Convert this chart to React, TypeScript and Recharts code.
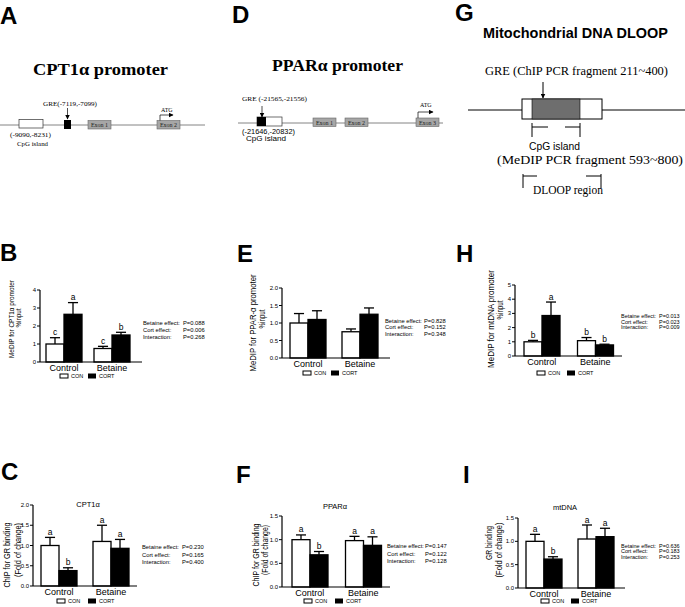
import React from 'react';
import { BarChart, Bar, XAxis, YAxis } from 'recharts';

const groups = ['Control', 'Betaine'];
const effectNames = ['Betaine effect:', 'Cort effect:', 'Interaction:'];

// B: MeDIP, CPT1α promoter (%input)
const cptMedipCon = [1.0, 0.75];
const cptMedipConErr = [0.35, 0.12];
const cptMedipCort = [2.65, 1.5];
const cptMedipCortErr = [0.65, 0.15];
const cptMedipConSig = ['c', 'c'];
const cptMedipCortSig = ['a', 'b'];
const cptMedipP = ['0.088', '0.006', '0.268'];

// E: MeDIP, PPAR-α promoter (%input)
const pparMedipCon = [1.0, 0.75];
const pparMedipConErr = [0.27, 0.08];
const pparMedipCort = [1.1, 1.25];
const pparMedipCortErr = [0.25, 0.18];
const pparMedipP = ['0.828', '0.152', '0.348'];

// H: MeDIP, mtDNA (%input)
const mtMedipCon = [1.0, 1.08];
const mtMedipConErr = [0.1, 0.22];
const mtMedipCort = [2.85, 0.78];
const mtMedipCortErr = [0.95, 0.05];
const mtMedipConSig = ['b', 'b'];
const mtMedipCortSig = ['a', 'b'];
const mtMedipP = ['0.013', '0.023', '0.009'];

// C: ChIP GR binding, CPT1α (fold of change)
const cptChipCon = [1.0, 1.1];
const cptChipConErr = [0.2, 0.4];
const cptChipCort = [0.38, 0.93];
const cptChipCortErr = [0.07, 0.22];
const cptChipConSig = ['a', 'a'];
const cptChipCortSig = ['b', 'a'];
const cptChipP = ['0.230', '0.165', '0.400'];

// F: ChIP GR binding, PPARα
const pparChipCon = [1.0, 0.98];
const pparChipConErr = [0.1, 0.09];
const pparChipCort = [0.68, 0.88];
const pparChipCortErr = [0.07, 0.18];
const pparChipConSig = ['a', 'a'];
const pparChipCortSig = ['b', 'a'];
const pparChipP = ['0.147', '0.122', '0.128'];

// I: ChIP GR binding, mtDNA
const mtChipCon = [1.0, 1.05];
const mtChipConErr = [0.15, 0.3];
const mtChipCort = [0.62, 1.1];
const mtChipCortErr = [0.05, 0.18];
const mtChipConSig = ['a', 'a'];
const mtChipCortSig = ['b', 'a'];
const mtChipP = ['0.636', '0.183', '0.253'];

const SANS = 'Liberation Sans, Arial, sans-serif';
const SERIF = 'Liberation Serif, Times New Roman, serif';

const YW = 24;
const XH = 16;
const MT = 16;
const MR = 4;

function barShape(errKey: string, sigKey: string) {
  return (props: any) => {
    const { x, y, width, height, fill, payload, value } = props;
    const v = Array.isArray(value) ? value[1] - value[0] : value;
    const unit = v ? height / v : 0;
    const top = y - payload[errKey] * unit;
    const cx = x + width / 2;
    const cap = width * 0.28;
    const sig = payload[sigKey];
    return (
      <g>
        <line x1={cx} x2={cx} y1={y} y2={top} stroke="#000" strokeWidth={1.3} />
        <line x1={cx - cap} x2={cx + cap} y1={top} y2={top} stroke="#000" strokeWidth={1.3} />
        <rect x={x} y={y} width={width} height={height} fill={fill} stroke="#000" strokeWidth={1.3} />
        {sig ? (
          <text x={cx} y={top - 2.5} textAnchor="middle" fontSize={8.5} fontFamily={SANS} fill="#000">
            {sig}
          </text>
        ) : null}
      </g>
    );
  };
}

interface PanelProps {
  left: number;
  right: number;
  top: number;
  bottom: number;
  max: number;
  ticks: number[];
  digits: number;
  con: number[];
  conErr: number[];
  cort: number[];
  cortErr: number[];
  conSig?: string[];
  cortSig?: string[];
  padL?: number;
  padR?: number;
}

function GroupBars(p: PanelProps) {
  const rows = groups.map((g, i) => ({
    name: g,
    con: p.con[i],
    conErr: p.conErr[i],
    conSig: p.conSig ? p.conSig[i] : '',
    cort: p.cort[i],
    cortErr: p.cortErr[i],
    cortSig: p.cortSig ? p.cortSig[i] : '',
  }));
  const w = YW + (p.right - p.left) + MR;
  const h = MT + (p.bottom - p.top) + XH;
  return (
    <div style={{ position: 'absolute', left: p.left - YW, top: p.top - MT, width: w, height: h }}>
      <BarChart
        width={w}
        height={h}
        data={rows}
        margin={{ top: MT, right: MR, bottom: 0, left: 0 }}
        barGap={0}
        barSize={18}
        style={{ overflow: 'visible' }}
      >
        <XAxis
          dataKey="name"
          height={XH}
          interval={0}
          tickLine={false}
          tickSize={0}
          tickMargin={0}
          axisLine={{ stroke: '#000', strokeWidth: 1.2 }}
          padding={{ left: p.padL ?? 0, right: p.padR ?? 0 }}
          tick={(t: any) => (
            <text x={t.x} y={t.y + 8.5} textAnchor="middle" fontSize={9} fontFamily={SANS} fill="#000">
              {t.payload.value}
            </text>
          )}
        />
        <YAxis
          width={YW}
          domain={[0, p.max]}
          ticks={p.ticks}
          interval={0}
          tickSize={3}
          tickMargin={1}
          axisLine={{ stroke: '#000', strokeWidth: 1.2 }}
          tickLine={{ stroke: '#000', strokeWidth: 1 }}
          tick={(t: any) => (
            <text x={t.x} y={t.y + 2} textAnchor="end" fontSize={6} fontFamily={SANS} fill="#000">
              {Number(t.payload.value).toFixed(p.digits)}
            </text>
          )}
        />
        <Bar dataKey="con" fill="#fff" shape={barShape('conErr', 'conSig')} isAnimationActive={false} />
        <Bar dataKey="cort" fill="#000" shape={barShape('cortErr', 'cortSig')} isAnimationActive={false} />
      </BarChart>
    </div>
  );
}

function Stats({ x, vx, ys, vals, size = 5.8 }: { x: number; vx: number; ys: number[]; vals: string[]; size?: number }) {
  return (
    <g fontFamily={SANS} fontSize={size} fill="#000">
      {effectNames.map((n, i) => (
        <g key={n}>
          <text x={x} y={ys[i]}>{n}</text>
          <text x={vx} y={ys[i]}>P={vals[i]}</text>
        </g>
      ))}
    </g>
  );
}

function Key({ a, b, y }: { a: number; b: number; y: number }) {
  return (
    <g fontFamily={SANS} fontSize={5.5} fill="#000">
      <rect x={a} y={y - 2} width={8} height={4} fill="#fff" stroke="#000" strokeWidth={1} />
      <text x={a + 11} y={y + 2}>CON</text>
      <rect x={b} y={y - 2.5} width={8} height={5} fill="#000" />
      <text x={b + 11} y={y + 2}>CORT</text>
    </g>
  );
}

function VLabel({ x, y, text, len, size }: { x: number; y: number; text: string; len: number; size: number }) {
  return (
    <text
      x={x}
      y={y}
      transform={`rotate(-90 ${x} ${y})`}
      textAnchor="middle"
      fontFamily={SANS}
      fontSize={size}
      textLength={len}
      lengthAdjust="spacingAndGlyphs"
      fill="#000"
    >
      {text}
    </text>
  );
}

function Letter({ x, y, c }: { x: number; y: number; c: string }) {
  return (
    <text x={x} y={y} fontFamily={SANS} fontWeight="bold" fontSize={24} fill="#000">
      {c}
    </text>
  );
}

function Exon({ x, y, label }: { x: number; y: number; label: string }) {
  return (
    <g>
      <rect x={x} y={y} width={23} height={8.5} fill="#a6a6a6" stroke="#666" strokeWidth={0.6} />
      <text x={x + 11.5} y={y + 6.5} textAnchor="middle" fontFamily={SERIF} fontSize={6} fill="#222">
        {label}
      </text>
    </g>
  );
}

export default function App() {
  return (
    <div style={{ position: 'absolute', left: 0, top: 0, width: 685, height: 607, background: '#fff', overflow: 'hidden' }}>
      <GroupBars left={40} right={142} top={290} bottom={362} max={4} ticks={[0, 1, 2, 3, 4]} digits={0}
        con={cptMedipCon} conErr={cptMedipConErr} cort={cptMedipCort} cortErr={cptMedipCortErr}
        conSig={cptMedipConSig} cortSig={cptMedipCortSig} padR={6} />
      <GroupBars left={282} right={390} top={288} bottom={358} max={2} ticks={[0, 0.5, 1, 1.5, 2]} digits={1}
        con={pparMedipCon} conErr={pparMedipConErr} cort={pparMedipCort} cortErr={pparMedipCortErr} padR={4} />
      <GroupBars left={515} right={622} top={285} bottom={356} max={5} ticks={[0, 1, 2, 3, 4, 5]} digits={0}
        con={mtMedipCon} conErr={mtMedipConErr} cort={mtMedipCort} cortErr={mtMedipCortErr}
        conSig={mtMedipConSig} cortSig={mtMedipCortSig} />
      <GroupBars left={33} right={137} top={505} bottom={586} max={2} ticks={[0, 0.5, 1, 1.5, 2]} digits={1}
        con={cptChipCon} conErr={cptChipConErr} cort={cptChipCort} cortErr={cptChipCortErr}
        conSig={cptChipConSig} cortSig={cptChipCortSig} />
      <GroupBars left={282} right={390} top={516} bottom={587} max={1.5} ticks={[0, 0.5, 1, 1.5]} digits={1}
        con={pparChipCon} conErr={pparChipConErr} cort={pparChipCort} cortErr={pparChipCortErr}
        conSig={pparChipConSig} cortSig={pparChipCortSig} padL={1} />
      <GroupBars left={518} right={625} top={518} bottom={588} max={1.5} ticks={[0, 0.5, 1, 1.5]} digits={1}
        con={mtChipCon} conErr={mtChipConErr} cort={mtChipCort} cortErr={mtChipCortErr}
        conSig={mtChipConSig} cortSig={mtChipCortSig} padR={3} />

      <svg width={685} height={607} style={{ position: 'absolute', left: 0, top: 0, pointerEvents: 'none' }}>
        <defs>
          <marker id="ah" markerUnits="userSpaceOnUse" markerWidth={5} markerHeight={5} refX={4.5} refY={2.5} orient="auto">
            <path d="M0,0 L5,2.5 L0,5 z" fill="#000" />
          </marker>
        </defs>

        {/* panel letters */}
        <Letter x={0} y={24} c="A" />
        <Letter x={232} y={23} c="D" />
        <Letter x={455} y={21} c="G" />
        <Letter x={0} y={261} c="B" />
        <Letter x={237} y={262} c="E" />
        <Letter x={456} y={262} c="H" />
        <Letter x={1} y={480} c="C" />
        <Letter x={236} y={483} c="F" />
        <Letter x={463} y={483} c="I" />

        {/* A: CPT1α promoter map */}
        <text x={33} y={75} fontFamily={SERIF} fontWeight="bold" fontSize={16} textLength={135} lengthAdjust="spacingAndGlyphs">
          CPT1α  promoter
        </text>
        <line x1={0} y1={125} x2={205} y2={125} stroke="#666" strokeWidth={0.8} />
        <rect x={19} y={119.5} width={24} height={8.5} fill="#fff" stroke="#333" strokeWidth={0.7} />
        <rect x={64} y={120} width={7} height={9} fill="#000" />
        <line x1={67.5} y1={108} x2={67.5} y2={119} stroke="#000" strokeWidth={0.7} markerEnd="url(#ah)" />
        <text x={43} y={106} fontFamily={SERIF} fontSize={6.5} textLength={54} lengthAdjust="spacingAndGlyphs">GRE(-7119,-7099)</text>
        <Exon x={88} y={120.5} label="Exon 1" />
        <Exon x={157} y={120.5} label="Exon 2" />
        <text x={161} y={112} fontFamily={SERIF} fontSize={6}>ATG</text>
        <polyline points="160,120.5 160,115 173,115" fill="none" stroke="#000" strokeWidth={0.7} markerEnd="url(#ah)" />
        <text x={10} y={137} fontFamily={SERIF} fontSize={6.5} textLength={41} lengthAdjust="spacingAndGlyphs">(-9090,-8231)</text>
        <text x={17} y={146} fontFamily={SERIF} fontSize={6.5} textLength={31} lengthAdjust="spacingAndGlyphs">CpG island</text>

        {/* D: PPARα promoter map */}
        <text x={272} y={71} fontFamily={SERIF} fontWeight="bold" fontSize={16} textLength={131} lengthAdjust="spacingAndGlyphs">
          PPARα promoter
        </text>
        <line x1={238} y1={123} x2={443} y2={123} stroke="#666" strokeWidth={0.8} />
        <rect x={257} y={117} width={25} height={9} fill="#fff" stroke="#333" strokeWidth={0.7} />
        <rect x={257} y={117} width={9} height={9} fill="#000" />
        <line x1={262} y1={106} x2={262} y2={117} stroke="#000" strokeWidth={0.7} markerEnd="url(#ah)" />
        <text x={242} y={101} fontFamily={SERIF} fontSize={6} textLength={65} lengthAdjust="spacingAndGlyphs">GRE (-21565,-21556)</text>
        <text x={242} y={134} fontFamily={SANS} fontSize={6.5} textLength={53} lengthAdjust="spacingAndGlyphs">(-21646,-20832)</text>
        <text x={246} y={140.5} fontFamily={SANS} fontSize={6.5} textLength={40} lengthAdjust="spacingAndGlyphs">CpG island</text>
        <Exon x={313} y={118} label="Exon 1" />
        <Exon x={345} y={118} label="Exon 2" />
        <Exon x={416} y={118} label="Exon 3" />
        <text x={420} y={107} fontFamily={SERIF} fontSize={6}>ATG</text>
        <polyline points="418,118 418,112 433,112" fill="none" stroke="#000" strokeWidth={0.7} markerEnd="url(#ah)" />

        {/* G: mitochondrial DLOOP map */}
        <text x={483} y={38} fontFamily={SANS} fontWeight="bold" fontSize={15} textLength={185} lengthAdjust="spacingAndGlyphs">
          Mitochondrial DNA DLOOP
        </text>
        <text x={485} y={75} fontFamily={SERIF} fontSize={12.5} textLength={183} lengthAdjust="spacingAndGlyphs">
          GRE (ChIP PCR fragment 211~400)
        </text>
        <line x1={543} y1={82} x2={543} y2={98} stroke="#000" strokeWidth={1} markerEnd="url(#ah)" />
        <line x1={468} y1={110} x2={685} y2={110} stroke="#000" strokeWidth={1} />
        <rect x={522} y={99} width={80} height={20} fill="#fff" stroke="#000" strokeWidth={1} />
        <rect x={532} y={99} width={48} height={20} fill="#6e6e6e" stroke="#000" strokeWidth={0.6} />
        <path d="M532,123 V137 M580,123 V137 M532,127 H548 M565,127 H580" stroke="#000" strokeWidth={1} fill="none" />
        <text x={529} y={150} fontFamily={SANS} fontSize={10} textLength={51} lengthAdjust="spacingAndGlyphs">CpG island</text>
        <text x={497} y={164} fontFamily={SERIF} fontSize={12.5} textLength={186} lengthAdjust="spacingAndGlyphs">
          (MeDIP PCR fragment 593~800)
        </text>
        <path d="M523,174 V188 M601,174 V188 M523,176 H537 M586,176 H601" stroke="#000" strokeWidth={1} fill="none" />
        <text x={533} y={194} fontFamily={SERIF} fontSize={12} textLength={70} lengthAdjust="spacingAndGlyphs">DLOOP region</text>

        {/* axis titles */}
        <VLabel x={14} y={319} text="MeDIP for CPT1α promoter" len={78} size={8} />
        <VLabel x={21} y={318} text="%input" len={19} size={8} />
        <VLabel x={256} y={323} text="MeDIP for PPAR-α promoter" len={97} size={8.5} />
        <VLabel x={265} y={319} text="%input" len={19} size={8.5} />
        <VLabel x={494} y={319} text="MeDIP for mtDNA promoter" len={98} size={9} />
        <VLabel x={503} y={310} text="%input" len={19} size={9} />
        <VLabel x={10} y={555} text="ChIP for GR binding" len={65} size={9.5} />
        <VLabel x={21} y={550} text="(Fold of change)" len={54} size={9.5} />
        <VLabel x={259} y={555} text="ChIP for GR binding" len={63} size={9.5} />
        <VLabel x={268} y={550} text="(Fold of change)" len={50} size={9.5} />
        <VLabel x={492} y={543} text="GR binding" len={34} size={9.5} />
        <VLabel x={502} y={550} text="(Fold of change)" len={55} size={9.5} />

        {/* chart titles */}
        <g fontFamily={SANS} fontSize={7.5} textAnchor="middle">
          <text x={88} y={507}>CPT1α</text>
          <text x={335} y={509}>PPARα</text>
          <text x={565} y={510}>mtDNA</text>
        </g>

        {/* statistics */}
        <Stats x={143} vx={183} ys={[324.5, 331.5, 339]} vals={cptMedipP} />
        <Stats x={385} vx={424} ys={[322.5, 329, 336]} vals={pparMedipP} />
        <Stats x={621} vx={659} ys={[318, 323.5, 329]} vals={mtMedipP} size={5.5} />
        <Stats x={142} vx={182} ys={[549, 556.5, 563.5]} vals={cptChipP} />
        <Stats x={387} vx={425} ys={[548, 555.5, 562.5]} vals={pparChipP} />
        <Stats x={621} vx={659} ys={[547.5, 553, 558.5]} vals={mtChipP} size={5.5} />

        {/* legends */}
        <Key a={60} b={88} y={376} />
        <Key a={303} b={331} y={373} />
        <Key a={537} b={567} y={373} />
        <Key a={57} b={88} y={601} />
        <Key a={304} b={335} y={601} />
        <Key a={541} b={571} y={601} />
      </svg>
    </div>
  );
}
